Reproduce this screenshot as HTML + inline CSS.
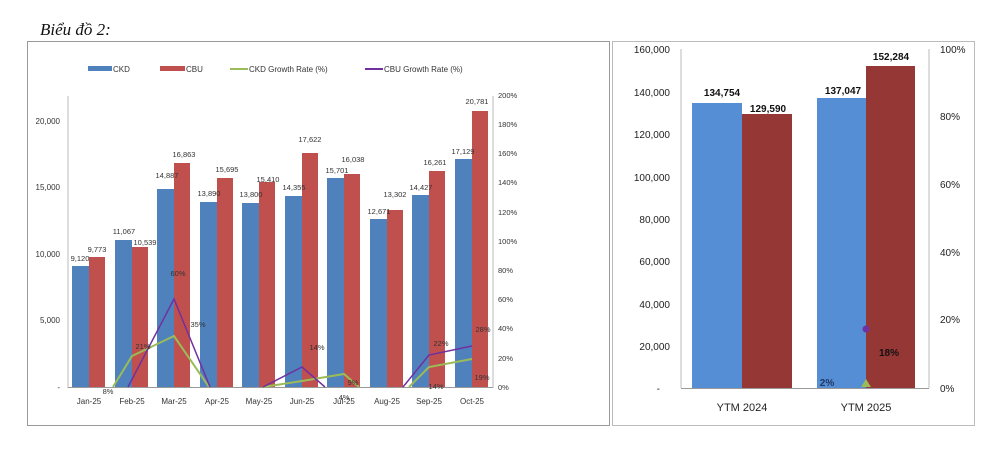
<!DOCTYPE html>
<html><head><meta charset="utf-8"><style>
body{margin:0;background:#fff;width:1000px;height:447px;overflow:hidden}
svg text{font-family:"Liberation Sans",sans-serif}
svg text.t{font-family:"Liberation Serif",serif}
</style></head><body>
<svg width="1000" height="447" viewBox="0 0 1000 447">
<text class="t" x="40" y="35" font-style="italic" font-size="17" fill="#111">Biểu đồ 2:</text>
<rect x="27.5" y="41.5" width="582" height="384" fill="#fff" stroke="#999"/>
<g font-size="8" fill="#333">
<rect x="88" y="66" width="24" height="5" fill="#4f81bd"/><text x="113" y="72">CKD</text>
<rect x="160" y="66" width="25" height="5" fill="#c0504d"/><text x="186" y="72">CBU</text>
<line x1="230" y1="69" x2="248" y2="69" stroke="#9bbb59" stroke-width="2"/><text x="249" y="72">CKD Growth Rate (%)</text>
<line x1="365" y1="69" x2="383" y2="69" stroke="#7030a0" stroke-width="2"/><text x="384" y="72">CBU Growth Rate (%)</text>
</g>
<line x1="68" y1="96" x2="68" y2="388" stroke="#bbb"/>
<line x1="493" y1="96" x2="493" y2="388" stroke="#bbb"/>
<line x1="68" y1="387.5" x2="493" y2="387.5" stroke="#999"/>
<g font-size="8" fill="#333" text-anchor="end">
<text x="60" y="124">20,000</text><text x="60" y="190">15,000</text><text x="60" y="257">10,000</text><text x="60" y="323">5,000</text><text x="60" y="390">-</text>
</g>
<g font-size="7.5" fill="#333">
<text x="498" y="98">200%</text><text x="498" y="127">180%</text><text x="498" y="156">160%</text><text x="498" y="185">140%</text><text x="498" y="215">120%</text><text x="498" y="244">100%</text><text x="498" y="273">80%</text><text x="498" y="302">60%</text><text x="498" y="331">40%</text><text x="498" y="361">20%</text><text x="498" y="390">0%</text>
</g>
<g>
<rect x="72" y="266" width="17" height="121" fill="#4f81bd"/><rect x="89" y="257" width="16" height="130" fill="#c0504d"/>
<rect x="115" y="240" width="17" height="147" fill="#4f81bd"/><rect x="132" y="247" width="16" height="140" fill="#c0504d"/>
<rect x="157" y="189" width="17" height="198" fill="#4f81bd"/><rect x="174" y="163" width="16" height="224" fill="#c0504d"/>
<rect x="200" y="202" width="17" height="185" fill="#4f81bd"/><rect x="217" y="178" width="16" height="209" fill="#c0504d"/>
<rect x="242" y="203" width="17" height="184" fill="#4f81bd"/><rect x="259" y="182" width="16" height="205" fill="#c0504d"/>
<rect x="285" y="196" width="17" height="191" fill="#4f81bd"/><rect x="302" y="153" width="16" height="234" fill="#c0504d"/>
<rect x="327" y="178" width="17" height="209" fill="#4f81bd"/><rect x="344" y="174" width="16" height="213" fill="#c0504d"/>
<rect x="370" y="219" width="17" height="168" fill="#4f81bd"/><rect x="387" y="210" width="16" height="177" fill="#c0504d"/>
<rect x="412" y="195" width="17" height="192" fill="#4f81bd"/><rect x="429" y="171" width="16" height="216" fill="#c0504d"/>
<rect x="455" y="159" width="17" height="228" fill="#4f81bd"/><rect x="472" y="111" width="16" height="276" fill="#c0504d"/>
</g>
<polyline points="113,387 132,356 174,336 209,387" fill="none" stroke="#9bbb59" stroke-width="2"/>
<polyline points="263,387 302,381 344,374 359,387" fill="none" stroke="#9bbb59" stroke-width="2"/>
<polyline points="409,387 429,367 472,359" fill="none" stroke="#9bbb59" stroke-width="2"/>
<polyline points="128,387 174,299 210,387" fill="none" stroke="#7030a0" stroke-width="1.5"/>
<polyline points="263,387 302,367 325,387" fill="none" stroke="#7030a0" stroke-width="1.5"/>
<polyline points="403,387 429,355 472,346" fill="none" stroke="#7030a0" stroke-width="1.5"/>
<g font-size="7.5" fill="#333" text-anchor="middle">
<text x="80" y="261">9,120</text><text x="97" y="252">9,773</text>
<text x="124" y="234">11,067</text><text x="145" y="245">10,539</text>
<text x="167" y="178">14,887</text><text x="184" y="157">16,863</text>
<text x="209" y="196">13,890</text><text x="227" y="172">15,695</text>
<text x="251" y="197">13,800</text><text x="268" y="182">15,410</text>
<text x="294" y="190">14,355</text><text x="310" y="142">17,622</text>
<text x="337" y="173">15,701</text><text x="353" y="162">16,038</text>
<text x="379" y="214">12,671</text><text x="395" y="197">13,302</text>
<text x="421" y="190">14,427</text><text x="435" y="165">16,261</text>
<text x="463" y="154">17,129</text><text x="477" y="104">20,781</text>
<text x="108" y="394">8%</text><text x="143" y="349">21%</text><text x="178" y="276">60%</text><text x="198" y="327">35%</text>
<text x="317" y="350">14%</text><text x="353" y="385">9%</text><text x="344" y="400">4%</text>
<text x="441" y="346">22%</text><text x="436" y="389">14%</text><text x="483" y="332">28%</text><text x="482" y="380">19%</text>
</g>
<g font-size="8" fill="#333" text-anchor="middle">
<text x="89" y="404">Jan-25</text><text x="132" y="404">Feb-25</text><text x="174" y="404">Mar-25</text><text x="217" y="404">Apr-25</text><text x="259" y="404">May-25</text><text x="302" y="404">Jun-25</text><text x="344" y="404">Jul-25</text><text x="387" y="404">Aug-25</text><text x="429" y="404">Sep-25</text><text x="472" y="404">Oct-25</text>
</g>
<rect x="612.5" y="41.5" width="362" height="384" fill="#fff" stroke="#bbb"/>
<line x1="681" y1="49" x2="681" y2="388" stroke="#bbb"/>
<line x1="929" y1="49" x2="929" y2="388" stroke="#bbb"/>
<line x1="681" y1="388.5" x2="929" y2="388.5" stroke="#999"/>
<g font-size="10" fill="#222" text-anchor="end">
<text x="670" y="53">160,000</text><text x="670" y="96">140,000</text><text x="670" y="138">120,000</text><text x="670" y="181">100,000</text><text x="670" y="223">80,000</text><text x="670" y="265">60,000</text><text x="670" y="308">40,000</text><text x="670" y="350">20,000</text><text x="660" y="392">-</text>
</g>
<g font-size="10" fill="#222">
<text x="940" y="53">100%</text><text x="940" y="120">80%</text><text x="940" y="188">60%</text><text x="940" y="256">40%</text><text x="940" y="323">20%</text><text x="940" y="392">0%</text>
</g>
<rect x="692" y="103" width="50" height="285" fill="#558ed5"/>
<rect x="742" y="114" width="50" height="274" fill="#953735"/>
<rect x="817" y="98" width="49" height="290" fill="#558ed5"/>
<rect x="866" y="66" width="49" height="322" fill="#953735"/>
<g font-size="10" font-weight="bold" fill="#111" text-anchor="middle">
<text x="722" y="96">134,754</text><text x="768" y="112">129,590</text>
<text x="843" y="94">137,047</text><text x="891" y="60">152,284</text>
<text x="827" y="386" fill="#1f3864">2%</text><text x="889" y="356">18%</text>
</g>
<circle cx="866" cy="329" r="3.5" fill="#7030a0"/>
<polygon points="866,379 871,387 861,387" fill="#9bbb59"/>
<g font-size="11" fill="#222" text-anchor="middle">
<text x="742" y="411">YTM 2024</text><text x="866" y="411">YTM 2025</text>
</g>
</svg>
</body></html>
